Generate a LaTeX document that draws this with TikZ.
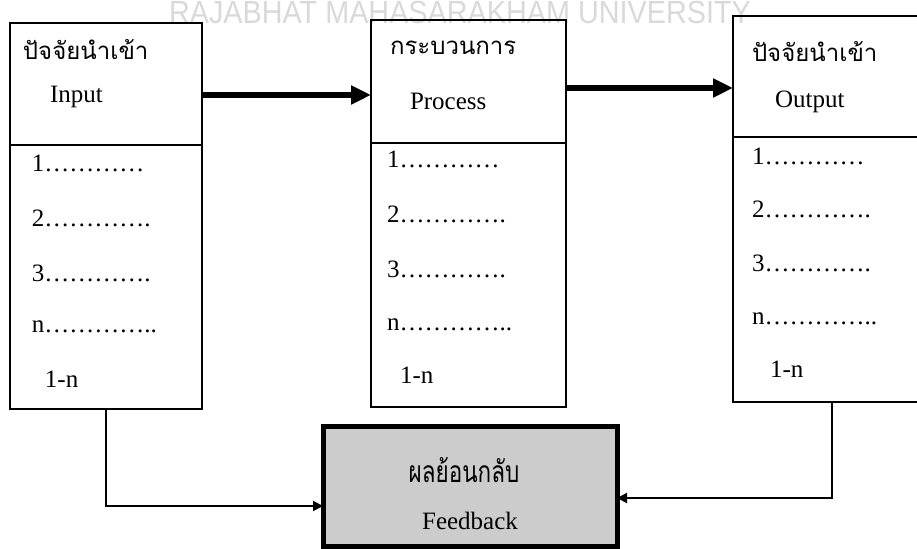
\documentclass[tikz,border=0pt]{standalone}
\usepackage{fontspec}
\setmainfont{Liberation Serif}
\newfontfamily\thaifont[Script=Thai]{Loma}
\newfontfamily\markfont{Liberation Sans}
\usetikzlibrary{arrows.meta}

\begin{document}
\begin{tikzpicture}[x=0.5pt, y=-0.5pt]
    \useasboundingbox (0,0) rectangle (917,549);
    \clip (0,0) rectangle (917,549);
    \begin{scope}[every node/.style={inner sep=0, outer sep=0}, boxpart/.style={draw=black, line width=1pt, anchor=north west}, thai/.style={anchor=base west, font=\thaifont\fontsize{12}{14}\selectfont}, latin/.style={anchor=base west, font=\fontsize{12.5}{15}\selectfont}, bigarrow/.style={line width=3pt, -{Triangle[length=10pt, width=9pt]}}, backarrow/.style={line width=1pt, -{Triangle[length=5pt, width=5pt]}}]
      % watermark
      \node [text=gray!30, font=\markfont\fontsize{16}{16}\selectfont, xscale=0.9, anchor=base] (wm) at (460,24) {RAJABHAT MAHASARAKHAM UNIVERSITY};
      % input
      \node [boxpart, minimum width=96pt, minimum height=61pt] (inhead) at (10,23) {};
      \node [boxpart, minimum width=96pt, minimum height=132pt] (inlist) at (10,145) {};
      \node [thai] (inth) at (23,60) {ปัจจัยนำเข้า};
      \node [latin] (inen) at (50,103) {Input};
      \node [latin] (in1) at (32,172) {1…………};
      \node [latin] (in2) at (32,227) {2………….};
      \node [latin] (in3) at (32,282) {3………….};
      \node [latin] (inn) at (32,333) {n…………..};
      \node [latin] (inall) at (45,388) {1-n};
      % process
      \node [boxpart, minimum width=97.5pt, minimum height=61.5pt] (prochead) at (371,20) {};
      \node [boxpart, minimum width=97.5pt, minimum height=132pt] (proclist) at (371,143) {};
      \node [thai] (procth) at (390,55) {กระบวนการ};
      \node [latin] (procen) at (410,110) {Process};
      \node [latin] (proc1) at (387,168) {1…………};
      \node [latin] (proc2) at (387,223) {2………….};
      \node [latin] (proc3) at (387,278) {3………….};
      \node [latin] (procn) at (387,331) {n…………..};
      \node [latin] (procall) at (400,384) {1-n};
      % output
      \node [boxpart, minimum width=96pt, minimum height=60.5pt] (outhead) at (733,16) {};
      \node [boxpart, minimum width=96pt, minimum height=132.5pt] (outlist) at (733,137) {};
      \node [thai] (outth) at (752,62) {ปัจจัยนำเข้า};
      \node [latin] (outen) at (775,108) {Output};
      \node [latin] (out1) at (752,165) {1…………};
      \node [latin] (out2) at (752,218) {2………….};
      \node [latin] (out3) at (752,272) {3………….};
      \node [latin] (outn) at (752,325) {n…………..};
      \node [latin] (outall) at (770,378) {1-n};
      % feedback
      \node [draw=black, line width=2.5pt, fill=gray!40, minimum width=147pt, minimum height=60pt, anchor=north west] (fb) at (323,427) {};
      \node [font=\thaifont\fontsize{15}{17}\selectfont, xscale=0.75, anchor=base] (fbth) at (464,483) {ผลย้อนกลับ};
      \node [font=\fontsize{12.5}{15}\selectfont, anchor=base] (fben) at (470,530) {Feedback};
      % connectors
      \draw [bigarrow] ([yshift=-5.5pt]inhead.east) -- ([yshift=-5.5pt]inhead.east -| prochead.west);
      \draw [bigarrow] ([yshift=-3.25pt]prochead.east) -- ([yshift=-3.25pt]prochead.east -| outhead.west);
      \draw [backarrow] (inlist.south) |- ([yshift=-9.5pt]fb.west);
      \draw [backarrow] ([xshift=1.5pt]outlist.south) |- ([yshift=-5.5pt]fb.east);
    \end{scope}
  \end{tikzpicture}
\end{document}
